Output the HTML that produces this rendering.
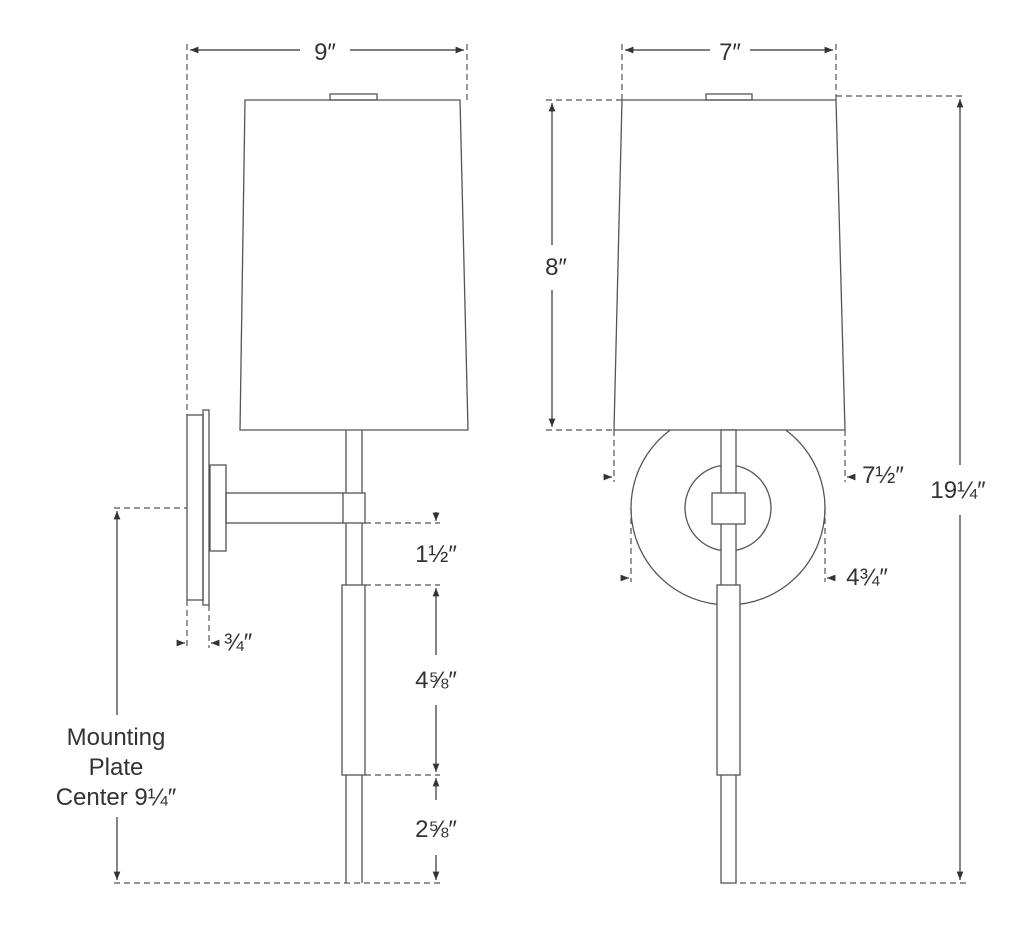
<!DOCTYPE html>
<html><head><style>
html,body{margin:0;padding:0;background:#fff;}
svg{display:block;}
text{font-family:"Liberation Sans","DejaVu Sans",sans-serif;fill:#333;font-size:24px;}
</style></head><body>
<svg width="1024" height="944" viewBox="0 0 1024 944" xmlns="http://www.w3.org/2000/svg">
<defs>
<marker id="a" viewBox="0 0 10 10" refX="10" refY="5" markerWidth="7" markerHeight="7" orient="auto-start-reverse"><path d="M0,1 L10,5 L0,9 z" fill="#333"/></marker>
</defs>
<g fill="none" stroke="#555" stroke-width="1.3">
<!-- LEFT VIEW -->
<polygon points="245,100 460,100 468,430 240,430" fill="#fff"/>
<rect x="330" y="94" width="47" height="6"/>
<rect x="187" y="415" width="16" height="185"/>
<rect x="203" y="410" width="6" height="195"/>
<rect x="210" y="465" width="16" height="86"/>
<rect x="226" y="493" width="118" height="30"/>
<line x1="346" y1="430" x2="346" y2="883"/><line x1="362" y1="430" x2="362" y2="883"/>
<rect x="343" y="493" width="22" height="30" fill="#fff"/>
<rect x="342" y="585" width="23" height="190" fill="#fff"/>
<!-- RIGHT VIEW -->
<circle cx="728" cy="508" r="97"/>
<polygon points="622,100 836,100 845,430 614,430" fill="#fff"/>
<rect x="706" y="94" width="46" height="6"/>
<circle cx="728" cy="508" r="43" fill="#fff"/>
<rect x="721" y="430" width="15" height="453" fill="#fff"/>
<rect x="712" y="493" width="33" height="31" fill="#fff"/>
<rect x="717" y="585" width="23" height="190" fill="#fff"/>
</g>
<g fill="none" stroke="#555" stroke-width="1.2" stroke-dasharray="6,4">
<line x1="187" y1="44" x2="187" y2="415"/><line x1="187" y1="600" x2="187" y2="648"/>
<line x1="209" y1="605" x2="209" y2="648"/>
<line x1="467" y1="44" x2="467" y2="100"/>
<line x1="365" y1="523" x2="440" y2="523"/>
<line x1="365" y1="585" x2="440" y2="585"/>
<line x1="365" y1="775" x2="440" y2="775"/>
<line x1="114" y1="508" x2="187" y2="508"/>
<line x1="114" y1="883" x2="440" y2="883"/>
<line x1="622" y1="44" x2="622" y2="100"/><line x1="836" y1="44" x2="836" y2="100"/>
<line x1="546" y1="100" x2="622" y2="100"/><line x1="546" y1="430" x2="614" y2="430"/>
<line x1="836" y1="96" x2="966" y2="96"/>
<line x1="740" y1="883" x2="966" y2="883"/>
<line x1="614" y1="430" x2="614" y2="482"/><line x1="845" y1="430" x2="845" y2="482"/>
<line x1="631" y1="508" x2="631" y2="582"/><line x1="825" y1="508" x2="825" y2="582"/>
</g>
<g stroke="#333" stroke-width="1.2" fill="none">
<line x1="190" y1="50" x2="300" y2="50" marker-start="url(#a)"/>
<line x1="350" y1="50" x2="464" y2="50" marker-end="url(#a)"/>
<line x1="625" y1="50" x2="710" y2="50" marker-start="url(#a)"/>
<line x1="750" y1="50" x2="833" y2="50" marker-end="url(#a)"/>
<line x1="552" y1="103" x2="552" y2="245" marker-start="url(#a)"/>
<line x1="552" y1="290" x2="552" y2="427" marker-end="url(#a)"/>
<line x1="960" y1="99" x2="960" y2="465" marker-start="url(#a)"/>
<line x1="960" y1="515" x2="960" y2="880" marker-end="url(#a)"/>
<line x1="436" y1="512" x2="436" y2="521" marker-end="url(#a)"/>
<line x1="436" y1="588" x2="436" y2="655" marker-start="url(#a)"/>
<line x1="436" y1="705" x2="436" y2="772" marker-end="url(#a)"/>
<line x1="436" y1="778" x2="436" y2="800" marker-start="url(#a)"/>
<line x1="436" y1="855" x2="436" y2="880" marker-end="url(#a)"/>
<line x1="117" y1="511" x2="117" y2="715" marker-start="url(#a)"/>
<line x1="117" y1="817" x2="117" y2="880" marker-end="url(#a)"/>
<line x1="178" y1="643" x2="185" y2="643" marker-end="url(#a)"/>
<line x1="218" y1="643" x2="211" y2="643" marker-end="url(#a)"/>
<line x1="605" y1="477" x2="612" y2="477" marker-end="url(#a)"/>
<line x1="854" y1="477" x2="847" y2="477" marker-end="url(#a)"/>
<line x1="622" y1="578" x2="629" y2="578" marker-end="url(#a)"/>
<line x1="834" y1="578" x2="827" y2="578" marker-end="url(#a)"/>
</g>
<text x="325" y="60" text-anchor="middle">9″</text>
<text x="730" y="60" text-anchor="middle">7″</text>
<text x="556" y="275" text-anchor="middle">8″</text>
<text x="958" y="498" text-anchor="middle">19¼″</text>
<text x="883" y="483" text-anchor="middle">7½″</text>
<text x="867" y="585" text-anchor="middle">4¾″</text>
<text x="436" y="562" text-anchor="middle">1½″</text>
<text x="436" y="688" text-anchor="middle">4⅝″</text>
<text x="436" y="837" text-anchor="middle">2⅝″</text>
<text x="238" y="650" font-size="20" text-anchor="middle">¾″</text>
<text x="116" y="745" text-anchor="middle">Mounting</text>
<text x="116" y="775" text-anchor="middle">Plate</text>
<text x="116" y="805" text-anchor="middle">Center 9¼″</text>
</svg>
</body></html>
